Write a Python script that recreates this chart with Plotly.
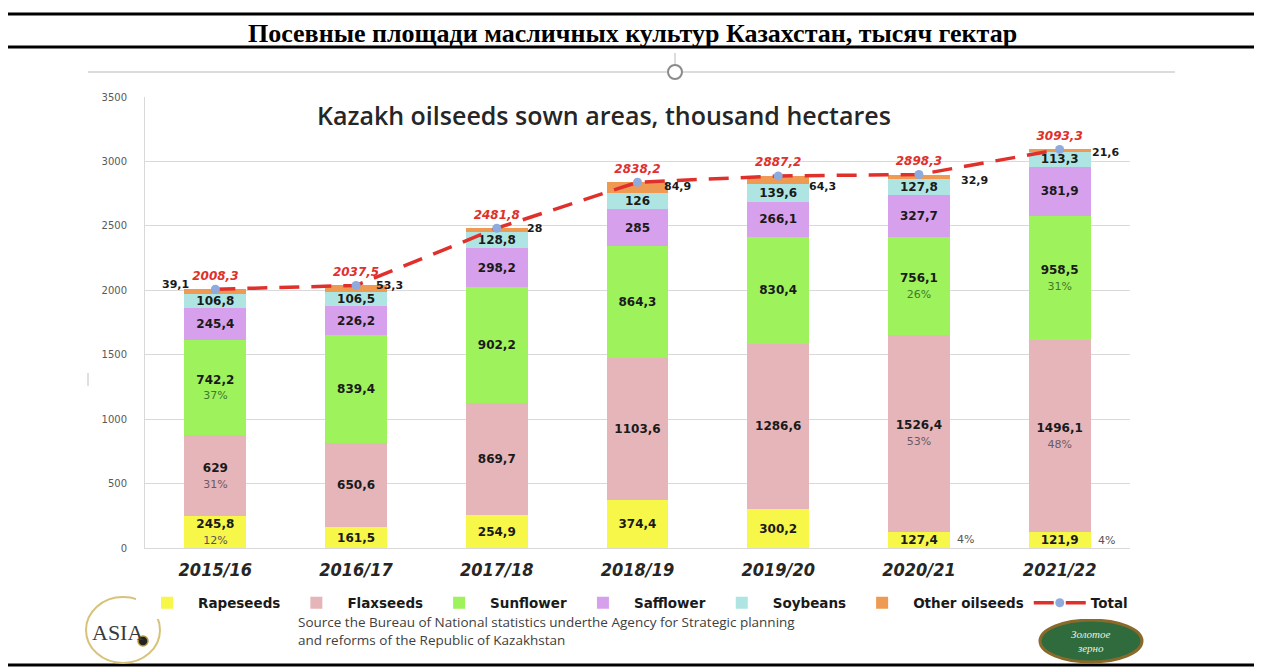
import plotly.graph_objects as go

# данные с картинки (тыс. га)
seasons = ["2015/16", "2016/17", "2017/18", "2018/19", "2019/20", "2020/21", "2021/22"]
rapeseeds = [245.8, 161.5, 254.9, 374.4, 300.2, 127.4, 121.9]
flaxseeds = [629, 650.6, 869.7, 1103.6, 1286.6, 1526.4, 1496.1]
sunflower = [742.2, 839.4, 902.2, 864.3, 830.4, 756.1, 958.5]
safflower = [245.4, 226.2, 298.2, 285, 266.1, 327.7, 381.9]
soybeans = [106.8, 106.5, 128.8, 126, 139.6, 127.8, 113.3]
other_oilseeds = [39.1, 53.3, 28, 84.9, 64.3, 32.9, 21.6]
totals = [2008.3, 2037.5, 2481.8, 2838.2, 2887.2, 2898.3, 3093.3]

rapeseeds_pct = ["12%", "", "", "", "", "4%", "4%"]
flaxseeds_pct = ["31%", "", "", "", "", "53%", "48%"]
sunflower_pct = ["37%", "", "", "", "", "26%", "31%"]

# область графика в пикселях (координаты картинки)
L, R, T, B = 145, 1130, 97, 548
OFF = 8  # отступ body в браузере


def px(x):
    return (x - L) / (R - L)


def py(y):
    return (B - y) / (B - T)


def fmt(v):
    return f"{v:g}".replace(".", ",")


def bar_text(values, pcts=None, pct_color="#555555"):
    out = []
    for i, v in enumerate(values):
        t = f"<b>{fmt(v)}</b>"
        if pcts and pcts[i] and v > 200:
            t += f"<br><span style='color:{pct_color};font-size:11px'>{pcts[i]}</span>"
        out.append(t)
    return out


VAL_FONT = "DejaVu Sans"

series = [
    ("Rapeseeds", rapeseeds, "#F7F74A", rapeseeds_pct, "#555555"),
    ("Flaxseeds", flaxseeds, "#E6B5BA", flaxseeds_pct, "#6a5a62"),
    ("Sunflower", sunflower, "#9EF25C", sunflower_pct, "#3d7a2a"),
    ("Safflower", safflower, "#D7A0EC", None, None),
    ("Soybeans", soybeans, "#AEE5E3", None, None),
]

fig = go.Figure()

for name, vals, color, pcts, pc in series:
    fig.add_trace(go.Bar(
        x=seasons, y=vals, name=name,
        marker=dict(color=color, line=dict(width=0)),
        text=bar_text(vals, pcts, pc),
        textposition="inside",
        insidetextanchor="middle",
        textangle=0,
        constraintext="none",
        textfont=dict(family=VAL_FONT, size=12, color="#1a1a1a"),
        hoverinfo="skip",
    ))

fig.add_trace(go.Bar(
    x=seasons, y=other_oilseeds, name="Other oilseeds",
    marker=dict(color="#EE9A52", line=dict(width=0)),
    hoverinfo="skip",
))

fig.add_trace(go.Scatter(
    x=seasons, y=totals, name="Total",
    mode="lines+markers+text",
    line=dict(color="#E0302C", width=3.5, dash="20px,12px"),
    marker=dict(color="#8FAADC", size=9),
    text=[fmt(t) for t in totals],
    textposition="top center",
    textfont=dict(family=VAL_FONT, size=12, color="#E0302C", weight="bold", style="italic"),
    hoverinfo="skip",
))

annotations = []

# подписи "прочих" сбоку от столбцов
other_dx = [-40, 33, 38, 40, 44, 56, 46]
other_dy = [5, 0, 0, -4, -11, -6, -3]
for i, v in enumerate(other_oilseeds):
    annotations.append(dict(
        x=seasons[i], y=totals[i], text=fmt(v), showarrow=False,
        xshift=other_dx[i], yshift=other_dy[i],
        font=dict(family=VAL_FONT, size=11, color="#1a1a1a", weight="bold"),
    ))

# 4% рядом с маленькими сегментами рапса
for i, v in enumerate(rapeseeds):
    if rapeseeds_pct[i] and v <= 200:
        annotations.append(dict(
            x=seasons[i], y=v / 2, text=rapeseeds_pct[i], showarrow=False,
            xshift=47, font=dict(family=VAL_FONT, size=11, color="#555555"),
        ))

annotations += [
    dict(xref="paper", yref="paper", x=px(632), y=py(33), text="<b>Посевные площади масличных культур Казахстан, тысяч гектар</b>",
         showarrow=False, xanchor="center", yanchor="middle",
         font=dict(family="Liberation Serif", size=26, color="#000000")),
    dict(xref="paper", yref="paper", x=px(604), y=py(115), text="Kazakh oilseeds sown areas, thousand hectares",
         showarrow=False, xanchor="center", yanchor="middle",
         font=dict(family="Open Sans", size=25, color="#262626", weight=600)),
    dict(xref="paper", yref="paper", x=px(296), y=py(631), align="left",
         text="Source the Bureau of National statistics underthe Agency for Strategic planning<br>and reforms of the Republic of Kazakhstan",
         showarrow=False, xanchor="left", yanchor="middle",
         font=dict(family="Open Sans", size=13.5, color="#404040")),
    dict(xref="paper", yref="paper", x=px(117), y=py(632), text="ASIA",
         showarrow=False, xanchor="center", yanchor="middle",
         font=dict(family="Liberation Serif", size=22, color="#3a3a3a")),
    dict(xref="paper", yref="paper", x=px(1091), y=py(641), text="<i>Золотое<br>зерно</i>",
         showarrow=False, xanchor="center", yanchor="middle",
         font=dict(family="Liberation Serif", size=11, color="#f0f0e0")),
]

shapes = [
    # чёрные линии таблицы
    dict(type="line", xref="paper", yref="paper", x0=px(3), x1=px(1262), y0=py(14), y1=py(14),
         line=dict(color="#000000", width=3)),
    dict(type="line", xref="paper", yref="paper", x0=px(3), x1=px(1262), y0=py(47), y1=py(47),
         line=dict(color="#000000", width=3)),
    dict(type="line", xref="paper", yref="paper", x0=px(3), x1=px(1262), y0=py(665), y1=py(665),
         line=dict(color="#000000", width=3)),
    # рамка выделения картинки
    dict(type="line", xref="paper", yref="paper", x0=px(88), x1=px(1175), y0=py(72), y1=py(72),
         line=dict(color="#d0d0d0", width=1.5)),
    dict(type="line", xref="paper", yref="paper", x0=px(675), x1=px(675), y0=py(53), y1=py(65),
         line=dict(color="#d0d0d0", width=1.5)),
    dict(type="circle", xref="paper", yref="paper", x0=px(668), x1=px(682), y0=py(65), y1=py(79),
         line=dict(color="#8a8a8a", width=2), fillcolor="#ffffff"),
    dict(type="line", xref="paper", yref="paper", x0=px(88), x1=px(88), y0=py(373), y1=py(386),
         line=dict(color="#c0c0c0", width=1)),
    # логотипы
    dict(type="circle", xref="paper", yref="paper", x0=px(86), x1=px(160), y0=py(597), y1=py(663),
         line=dict(color="#d8c27a", width=2), fillcolor="rgba(255,255,255,0)"),
    dict(type="circle", xref="paper", yref="paper", x0=px(138), x1=px(148), y0=py(636), y1=py(646),
         line=dict(color="#b89a3a", width=1.5), fillcolor="#222222"),
    dict(type="circle", xref="paper", yref="paper", x0=px(1040), x1=px(1142), y0=py(620), y1=py(662),
         line=dict(color="#8a6a2a", width=3), fillcolor="#2f6b3c"),
]

fig.update_layout(
    width=1262 - OFF, height=672 - OFF,
    margin=dict(l=L - OFF, r=1262 - R, t=T - OFF, b=672 - B),
    barmode="stack",
    bargap=0.56,
    paper_bgcolor="white",
    plot_bgcolor="white",
    showlegend=True,
    uniformtext=dict(minsize=11, mode="show"),
    legend=dict(
        orientation="h", x=px(136), y=py(603), xanchor="left", yanchor="middle",
        itemwidth=52,
        font=dict(family=VAL_FONT, size=13.5, color="#1a1a1a", weight="bold"),
        traceorder="normal",
    ),
    xaxis=dict(
        showline=True, linecolor="#d9d9d9", showgrid=False,
        tickfont=dict(family="DejaVu Sans Condensed", size=18, color="#262626", weight="bold", style="italic"),
        ticklabelstandoff=5,
    ),
    yaxis=dict(
        range=[0, 3500], dtick=500, showgrid=True, gridcolor="#d9d9d9", gridwidth=1,
        showline=True, linecolor="#d9d9d9", zeroline=False,
        tickfont=dict(family=VAL_FONT, size=10, color="#595959"),
        ticklabelstandoff=15,
    ),
    annotations=annotations,
    shapes=shapes,
)

fig.write_html("out.html")
